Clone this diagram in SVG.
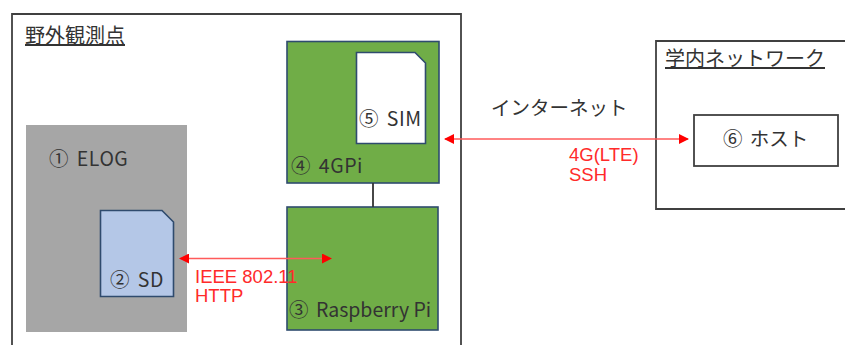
<svg xmlns="http://www.w3.org/2000/svg" width="845" height="345" viewBox="0 0 845 345">
<style>
text{font-family:"Noto Sans CJK JP","Noto Sans",sans-serif;font-size:19.500px;fill:#333;word-spacing:3px}
.wide{letter-spacing:.5px}
.red{font-family:"Liberation Sans",sans-serif;font-size:18.500px;fill:#ff2a2a;word-spacing:0}
.box{stroke:#2f4b6e;stroke-width:1.6}
.grn{fill:#70ad47}
.frame{fill:#fff;stroke:#404040;stroke-width:1.8}
.hd{font-size:20px;text-decoration:underline}
.red-line{stroke:#ff5a5a;stroke-width:1.3;fill:none;marker-start:url(#ah);marker-end:url(#ah)}
</style>
<defs><marker id="ah" viewBox="0 0 10 10" refX="9" refY="5" markerUnits="userSpaceOnUse" markerWidth="10" markerHeight="10" orient="auto-start-reverse"><path d="M0 0L10 5L0 10Z" fill="#f00"/></marker></defs>
<rect width="845" height="345" fill="#fff"/>
<g id="outdoor"><path class="frame" d="M12 346V14H461V346"/><text x="25" y="43" class="hd">野外観測点</text></g>
<g id="elog"><rect x="26" y="125" width="161" height="207" fill="#a6a6a6"/><text x="49" y="166" class="wide">① ELOG</text></g>
<g id="sd"><path class="box" fill="#b4c7e7" d="M100.500 210.500H162L173.500 222V296.500H100.500Z"/><text x="110" y="287" class="wide">② SD</text></g>
<g id="fourgpi"><rect class="box grn" x="287" y="41.500" width="152" height="141.500"/><text x="291" y="173" class="wide">④ 4GPi</text></g>
<g id="sim"><path class="box" fill="#fff" d="M356.500 52.500H415L425.500 63V143.500H356.500Z"/><text x="359" y="126" class="wide">⑤ SIM</text></g>
<g id="raspberry"><rect class="box grn" x="287" y="207" width="151" height="123"/><text x="289" y="317" style="word-spacing:0"><tspan>③ </tspan><tspan dx="3">Raspberry Pi</tspan></text></g>
<g id="internet"><text x="491" y="115">インターネット</text></g>
<g id="campus"><path class="frame" d="M846 41H656V209H846"/><text x="665" y="66" class="hd">学内ネットワーク</text></g>
<g id="host"><rect x="694" y="115" width="144" height="51" fill="#fff" stroke="#404040" stroke-width="1.8"/><text x="723" y="146">⑥ ホスト</text></g>
<g id="connectors">
<line x1="373" y1="183" x2="373" y2="207" stroke="#333" stroke-width="1.8"/>
<line class="red-line" x1="180" y1="258.500" x2="331" y2="258.500"/>
<line class="red-line" x1="445" y1="139" x2="688" y2="139"/>
</g>
<g id="labels">
<text class="red" x="195" y="283">IEEE 802.11</text><text class="red" x="195" y="302">HTTP</text>
<text class="red" x="569" y="161">4G(LTE)</text><text class="red" x="569" y="181">SSH</text>
</g>
</svg>
